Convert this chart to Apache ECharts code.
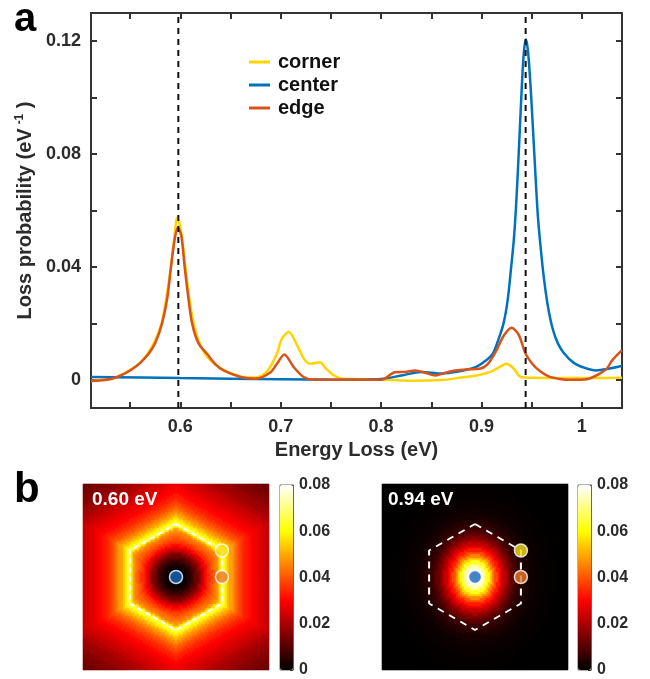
<!DOCTYPE html>
<html>
<head>
<meta charset="utf-8">
<script src="https://cdn.jsdelivr.net/npm/echarts@6/dist/echarts.min.js"></script>
<style>
html, body { margin: 0; padding: 0; background: #fff; }
#chart { width: 650px; height: 679px; }
</style>
</head>
<body>
<div id="chart"></div>
<script>
// ---- panel a: loss probability spectra ----
var cornerE = [0.511, 0.525, 0.537, 0.55, 0.56, 0.568, 0.575, 0.582, 0.589, 0.593, 0.597, 0.601, 0.605, 0.611, 0.618, 0.627, 0.643, 0.66, 0.675, 0.686, 0.696, 0.701, 0.708, 0.716, 0.723, 0.729, 0.734, 0.739, 0.745, 0.752, 0.76, 0.78, 0.80, 0.83, 0.86, 0.88, 0.895, 0.91, 0.918, 0.925, 0.932, 0.939, 0.95, 0.98, 1.01, 1.04];
var cornerP = [-0.0004, 0.0001, 0.001, 0.0035, 0.006, 0.0095, 0.014, 0.021, 0.036, 0.047, 0.0575, 0.052, 0.040, 0.024, 0.014, 0.008, 0.0035, 0.0012, 0.0008, 0.0028, 0.009, 0.0145, 0.0169, 0.0125, 0.0075, 0.0057, 0.0059, 0.0062, 0.004, 0.0018, 0.0005, 0.0002, 0.0, -0.0003, -0.0001, 0.0008, 0.0015, 0.003, 0.0045, 0.0057, 0.004, 0.001, 0.0007, 0.0006, 0.0006, 0.0007];

var centerE = [0.511, 0.6, 0.7, 0.76, 0.80, 0.82, 0.84, 0.86, 0.875, 0.894, 0.903, 0.9112, 0.9172, 0.922, 0.9262, 0.9296, 0.9322, 0.9342, 0.9362, 0.9382, 0.9402, 0.9422, 0.9442, 0.9462, 0.9482, 0.9502, 0.9522, 0.9542, 0.9562, 0.9592, 0.9622, 0.9662, 0.971, 0.976, 0.982, 0.992, 1.003, 1.014, 1.025, 1.04];
var centerP = [0.001, 0.0006, 0.0002, 0.0, 0.0003, 0.0015, 0.0028, 0.0022, 0.0028, 0.0045, 0.0065, 0.0092, 0.0146, 0.02, 0.0285, 0.04, 0.0495, 0.060, 0.0736, 0.0888, 0.104, 0.116, 0.1207, 0.117, 0.108, 0.096, 0.083, 0.070, 0.058, 0.046, 0.036, 0.026, 0.018, 0.013, 0.0095, 0.006, 0.0042, 0.0033, 0.0038, 0.005];

var edgeE = [0.511, 0.525, 0.537, 0.55, 0.56, 0.5684, 0.575, 0.5818, 0.587, 0.5907, 0.594, 0.5975, 0.601, 0.6043, 0.608, 0.6117, 0.618, 0.6266, 0.635, 0.643, 0.66, 0.675, 0.69, 0.6963, 0.7036, 0.7129, 0.7228, 0.733, 0.76, 0.80, 0.814, 0.824, 0.834, 0.844, 0.854, 0.864, 0.874, 0.886, 0.898, 0.906, 0.914, 0.922, 0.93, 0.937, 0.944, 0.951, 0.9575, 0.967, 0.978, 0.99, 1.005, 1.017, 1.025, 1.03, 1.04];
var edgeP = [-0.0004, -0.0001, 0.001, 0.0033, 0.006, 0.0092, 0.013, 0.02, 0.029, 0.04, 0.049, 0.054, 0.051, 0.04, 0.029, 0.02, 0.013, 0.0092, 0.0055, 0.0033, 0.001, 0.0004, 0.0027, 0.0057, 0.009, 0.0045, 0.001, 0.0001, 0.0, 0.0, 0.0027, 0.0028, 0.0033, 0.0025, 0.0015, 0.0025, 0.0033, 0.0037, 0.0039, 0.0055, 0.0098, 0.0155, 0.0184, 0.016, 0.0092, 0.0055, 0.0033, 0.0012, 0.0003, 0.0, 0.0002, 0.002, 0.004, 0.0068, 0.0105];

// dashed guide lines at the two resonances, spanning the whole y range
var markEnergies = [0.598, 0.944];
var markSpan = [-0.01, 0.13];
var xTicks = [0.55, 0.6, 0.65, 0.7, 0.75, 0.8, 0.85, 0.9, 0.95, 1.0];
var xLabels = [0.6, 0.7, 0.8, 0.9, 1];
var yTicks = [0, 0.02, 0.04, 0.06, 0.08, 0.1, 0.12];
var yLabels = [0, 0.04, 0.08, 0.12];

// ---- panel b: loss maps (profiles read along the radius, in units of the hexagon radius) ----
var hexX = [0, 0.866, 0.866, 0, -0.866, -0.866, 0];
var hexY = [1, 0.5, -0.5, -1, -0.5, 0.5, 1];
var dotX = [0.866, 0.866, 0];
var dotY = [0.5, 0, 0];
var dotColors = ['#F7DE1A', '#E8792A', '#1565C0'];

var r060 = [0, 0.05, 0.1, 0.15, 0.2, 0.25, 0.3, 0.35, 0.4, 0.45, 0.5, 0.55, 0.6, 0.65, 0.7, 0.75, 0.8, 0.85, 0.9, 0.95, 1.0,
    1.05, 1.1, 1.15, 1.2, 1.25, 1.3, 1.35, 1.4, 1.45, 1.5, 1.55, 1.6, 1.65, 1.7, 1.75, 1.8, 1.85, 1.9, 1.95, 2.0,
    2.1, 2.2, 2.3, 2.4, 2.5, 2.6, 2.7, 2.8];
var p060 = [0, 0, 0.0005, 0.001, 0.002, 0.004, 0.007, 0.010, 0.013, 0.017, 0.022, 0.027, 0.031, 0.035, 0.038, 0.041, 0.043, 0.045, 0.049, 0.057, 0.068,
    0.064, 0.058, 0.053, 0.049, 0.046, 0.043, 0.040, 0.038, 0.036, 0.034, 0.033, 0.031, 0.030, 0.029, 0.028, 0.027, 0.026, 0.025, 0.024, 0.023,
    0.021, 0.019, 0.018, 0.016, 0.015, 0.014, 0.013, 0.012];

var r094 = [0, 0.05, 0.1, 0.15, 0.2, 0.25, 0.3, 0.35, 0.4, 0.45, 0.5, 0.55, 0.6, 0.65, 0.7, 0.75, 0.8, 0.85, 0.9, 1.0, 1.1, 1.2, 1.4, 1.6, 2.0];
var p094 = [0.08, 0.08, 0.079, 0.076, 0.070, 0.062, 0.054, 0.046, 0.039, 0.033, 0.028, 0.023, 0.019, 0.015, 0.012, 0.009, 0.007, 0.0055, 0.0042, 0.0027, 0.0018, 0.0012, 0.0007, 0.0004, 0.0];

var hotColors = ['#000000', '#550000', '#aa0000', '#ff0000', '#ff5500', '#ffaa00', '#ffff00', '#ffff80', '#ffffff'];

var FONT = 'Liberation Sans, Arial, sans-serif';
var TXT = '#2b2b2b';
var AX = '#333';

function pairs(xs, ys) {
    return xs.map(function (x, i) { return [x, ys[i]]; });
}

// nearest profile sample for a distance
function lookup(rs, vs, d) {
    var best = 0;
    for (var i = 1; i < rs.length; i++) {
        if (Math.abs(rs[i] - d) < Math.abs(rs[best] - d)) best = i;
    }
    return vs[best];
}

var N = 93;          // cells per side, 2px each
var R_PX = 53;       // hexagon radius in pixels
var cats = [];
for (var k = 0; k < N; k++) cats.push(k);

function buildMap(kind) {
    var out = [];
    for (var i = 0; i < N; i++) {
        for (var j = 0; j < N; j++) {
            var x = (i - (N - 1) / 2) * 2 / R_PX;
            var y = (j - (N - 1) / 2) * 2 / R_PX;
            var v;
            if (kind === '060') {
                // hexagonal distance near the rim, round near the middle
                var h = Math.max(Math.abs(x), Math.abs(x / 2 + y * 0.866), Math.abs(-x / 2 + y * 0.866)) / 0.866;
                var r = Math.sqrt(x * x + y * y);
                var w = Math.min(1, Math.pow(h, 4));
                v = lookup(r060, p060, w * h + (1 - w) * r);
            } else {
                var re = Math.sqrt(x * x + (y / 1.15) * (y / 1.15));
                v = lookup(r094, p094, re);
            }
            out.push([i, j, v]);
        }
    }
    return out;
}

var HALF = N / R_PX;

function mapAxes(gi) {
    return {
        x: { type: 'category', gridIndex: gi, data: cats, show: false },
        y: { type: 'category', gridIndex: gi, data: cats, show: false }
    };
}
function overlayAxis(gi) {
    return { type: 'value', gridIndex: gi, min: -HALF, max: HALF, show: false };
}
function barAxisY(gi) {
    return {
        type: 'value', gridIndex: gi, min: 0, max: 0.08, interval: 0.01, position: 'right',
        axisLine: { show: true, lineStyle: { color: '#666', width: 1 } },
        axisTick: { show: true, inside: true, length: 3, lineStyle: { color: '#333' } },
        splitLine: { show: false },
        axisLabel: {
            margin: 6, color: TXT, fontFamily: FONT, fontWeight: 'bold', fontSize: 16,
            formatter: function (v) {
                var n = Math.round(v * 100);
                return n % 2 === 0 ? (n === 0 ? '0' : (n / 100).toFixed(2)) : '';
            }
        }
    };
}

var m1 = mapAxes(1), m2 = mapAxes(2);
var spectrumLine = { show: true, onZero: false, lineStyle: { color: AX, width: 2 } };

var guideSeries = markEnergies.map(function (e) {
    return {
        type: 'line', xAxisIndex: 0, yAxisIndex: 0, z: 5, silent: true, showSymbol: false,
        data: markSpan.map(function (y) { return [e, y]; }),
        lineStyle: { color: '#111', width: 2, type: [6, 5] }
    };
});

var option = {
    animation: false,
    backgroundColor: '#fff',
    grid: [
        { left: 91, right: 28, top: 13, bottom: 271 },                 // 0 spectra
        { left: 83, top: 484, width: 186, height: 186 },               // 1 map 0.60
        { left: 382, top: 484, width: 186, height: 186 },              // 2 map 0.94
        { left: 83, top: 484, width: 186, height: 186 },               // 3 overlay 0.60
        { left: 382, top: 484, width: 186, height: 186 },              // 4 overlay 0.94
        { left: 280, top: 485, width: 13, height: 185, show: true, borderColor: '#666', borderWidth: 1 }, // 5 colorbar
        { left: 578, top: 485, width: 13, height: 185, show: true, borderColor: '#666', borderWidth: 1 }  // 6 colorbar
    ],
    legend: {
        orient: 'vertical',
        left: 249,
        top: 52,
        padding: 0,
        itemWidth: 21,
        itemHeight: 3,
        itemGap: 3,
        icon: 'rect',
        data: ['corner', 'center', 'edge'],
        textStyle: { color: '#111', fontFamily: FONT, fontWeight: 'bold', fontSize: 20, lineHeight: 20, padding: [0, 0, 0, 3] }
    },
    xAxis: [
        {
            type: 'value', gridIndex: 0, min: 0.511, max: 1.04,
            name: 'Energy Loss (eV)', nameLocation: 'middle', nameGap: 30,
            nameTextStyle: { color: TXT, fontFamily: FONT, fontWeight: 'bold', fontSize: 20 },
            axisLine: spectrumLine,
            axisTick: { show: true, inside: true, length: 6, customValues: xTicks, lineStyle: { color: AX, width: 2 } },
            axisLabel: { margin: 10, color: TXT, fontFamily: FONT, fontWeight: 'bold', fontSize: 18, customValues: xLabels },
            splitLine: { show: false }
        },
        {
            type: 'value', gridIndex: 0, position: 'top', min: 0.511, max: 1.04,
            axisLine: spectrumLine,
            axisTick: { show: true, inside: true, length: 6, customValues: xTicks, lineStyle: { color: AX, width: 2 } },
            axisLabel: { show: false },
            splitLine: { show: false }
        },
        m1.x, m2.x, overlayAxis(3), overlayAxis(4),
        { type: 'category', gridIndex: 5, data: ['c'], show: false },
        { type: 'category', gridIndex: 6, data: ['c'], show: false }
    ],
    yAxis: [
        {
            type: 'value', gridIndex: 0, min: -0.01, max: 0.13,
            name: 'Loss probability (eV{s|-1} )', nameLocation: 'middle', nameGap: 51,
            nameTextStyle: {
                color: TXT, fontFamily: FONT, fontWeight: 'bold', fontSize: 20,
                rich: { s: { color: TXT, fontFamily: FONT, fontWeight: 'bold', fontSize: 12, verticalAlign: 'top', padding: [0, 0, 10, 4] } }
            },
            axisLine: spectrumLine,
            axisTick: { show: true, inside: true, length: 6, customValues: yTicks, lineStyle: { color: AX, width: 2 } },
            axisLabel: { margin: 10, color: TXT, fontFamily: FONT, fontWeight: 'bold', fontSize: 18, customValues: yLabels },
            splitLine: { show: false }
        },
        {
            type: 'value', gridIndex: 0, position: 'right', min: -0.01, max: 0.13,
            axisLine: spectrumLine,
            axisTick: { show: true, inside: true, length: 6, customValues: yTicks, lineStyle: { color: AX, width: 2 } },
            axisLabel: { show: false },
            splitLine: { show: false }
        },
        m1.y, m2.y, overlayAxis(3), overlayAxis(4),
        barAxisY(5), barAxisY(6)
    ],
    visualMap: [
        {
            type: 'continuous', seriesIndex: 3, min: 0, max: 0.08, calculable: false, hoverLink: false,
            left: 280, top: 485, itemWidth: 13, itemHeight: 185, padding: 0, text: null,
            inRange: { color: hotColors }
        },
        {
            type: 'continuous', seriesIndex: 4, min: 0, max: 0.08, calculable: false, hoverLink: false,
            left: 578, top: 485, itemWidth: 13, itemHeight: 185, padding: 0, text: null,
            inRange: { color: hotColors }
        }
    ],
    graphic: [
        { type: 'text', left: 14, top: 0, style: { text: 'a', font: 'bold 40px ' + FONT, fill: '#000' } },
        { type: 'text', left: 14, top: 469, style: { text: 'b', font: 'bold 42px ' + FONT, fill: '#000' } },
        { type: 'text', left: 92, top: 490, z: 10, style: { text: '0.60 eV', font: 'bold 19px ' + FONT, fill: '#fff' } },
        { type: 'text', left: 388, top: 490, z: 10, style: { text: '0.94 eV', font: 'bold 19px ' + FONT, fill: '#fff' } }
    ],
    series: [
        { name: 'corner', type: 'line', xAxisIndex: 0, yAxisIndex: 0, data: pairs(cornerE, cornerP), smooth: 0.3, showSymbol: false, color: '#FFD400', lineStyle: { width: 2.5 } },
        { name: 'center', type: 'line', xAxisIndex: 0, yAxisIndex: 0, data: pairs(centerE, centerP), smooth: 0.3, showSymbol: false, color: '#0072BD', lineStyle: { width: 2.5 } },
        { name: 'edge', type: 'line', xAxisIndex: 0, yAxisIndex: 0, data: pairs(edgeE, edgeP), smooth: 0.3, showSymbol: false, color: '#D95319', lineStyle: { width: 2.5 } },
        { type: 'heatmap', xAxisIndex: 2, yAxisIndex: 2, data: buildMap('060'), progressive: 0, emphasis: { disabled: true } },
        { type: 'heatmap', xAxisIndex: 3, yAxisIndex: 3, data: buildMap('094'), progressive: 0, emphasis: { disabled: true } },
        { type: 'line', xAxisIndex: 4, yAxisIndex: 4, data: pairs(hexX, hexY), z: 6, showSymbol: false, lineStyle: { color: '#fff', width: 2, type: [5, 4] } },
        {
            type: 'scatter', xAxisIndex: 4, yAxisIndex: 4, z: 7, symbolSize: 13,
            data: dotX.map(function (x, i) { return { value: [x, dotY[i]], itemStyle: { color: dotColors[i] } }; }),
            itemStyle: { borderColor: '#fff', borderWidth: 1.5 }
        },
        { type: 'line', xAxisIndex: 5, yAxisIndex: 5, data: pairs(hexX, hexY), z: 6, showSymbol: false, lineStyle: { color: '#fff', width: 2, type: [7, 6] } },
        {
            type: 'scatter', xAxisIndex: 5, yAxisIndex: 5, z: 7, symbolSize: 13,
            data: dotX.map(function (x, i) { return { value: [x, dotY[i]], itemStyle: { color: dotColors[i] } }; }),
            itemStyle: { borderColor: '#fff', borderWidth: 1.5 }
        }
    ].concat(guideSeries)
};

var myChart = echarts.init(document.getElementById('chart'));
myChart.setOption(option);
</script>
</body>
</html>
